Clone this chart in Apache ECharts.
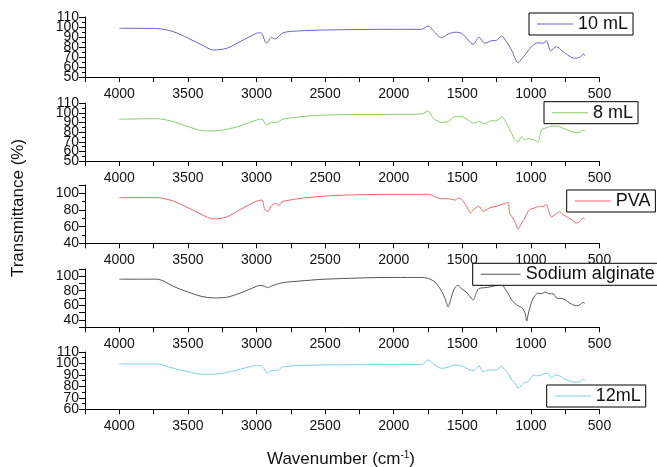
<!DOCTYPE html>
<html>
<head>
<meta charset="utf-8">
<script src="https://cdn.jsdelivr.net/npm/echarts@6/dist/echarts.min.js"></script>
<style>html,body{margin:0;padding:0;background:#fff;}#c{width:657px;height:467px;}</style>
</head>
<body>
<div id="c"></div>
<script>
// ---- data ----
const seriesNames = ['10 mL', '8 mL', 'PVA', 'Sodium alginate', '12mL'];
const xTickLabels = [4000, 3500, 3000, 2500, 2000, 1500, 1000, 500];

const wn10 = [4000,3728,3606,3497,3397,3315,3218,3120,3000,2970,2926,2890,2870,2854,2805,2700,2501,2003,1797,1749,1712,1651,1603,1554,1506,1457,1421,1379,1336,1287,1251,1214,1178,1141,1093,1068,1044,996,947,911,886,857,814,765,680,644,615,607];
const t10  = [98.7,98.5,95.3,88.7,82,77,78.7,85.3,93.7,94.3,83.7,89.7,88.2,88.7,94.3,96,97,97.7,97.7,101,96.3,89.3,93,94.7,93.7,87,82.7,89.7,83.7,86.3,86.7,91,85.3,77,64.3,68,72,80.3,84.3,83.7,86.3,76.3,80.3,75.3,68.7,69.7,73,71.3];

const wn8 = [4000,3728,3606,3497,3397,3315,3218,3120,3000,2960,2926,2890,2854,2805,2501,2003,1797,1749,1712,1651,1603,1554,1506,1457,1421,1379,1336,1287,1251,1214,1178,1141,1117,1093,1068,1044,1020,996,971,950,923,898,862,814,765,705,656,620,607];
const t8  = [93.4,94,90.9,85.7,81.5,81.2,83,86.4,92.6,93.4,87.4,90.2,90,93.7,97.8,98.5,98.9,102,94.4,90.2,91,96,96,92.6,89.2,91,88.8,91.9,91.6,96,89.2,78.8,71.8,70,75.3,71.8,73.5,72.5,71.8,69.5,82.2,84,85.7,86.4,84,80.5,79.4,82.2,81.5];

const wnPVA = [4000,3728,3606,3497,3397,3315,3218,3120,3000,2960,2940,2915,2890,2854,2840,2805,2501,2003,1749,1700,1650,1603,1554,1530,1506,1470,1440,1420,1400,1380,1348,1300,1251,1214,1190,1165,1156,1141,1117,1093,1068,1044,1020,996,971,935,910,886,870,850,825,790,765,705,668,644,620,607];
const tPVA  = [94.8,94.8,90.6,82.6,74.4,69.2,71.6,80.5,90.6,91.9,80.5,78.5,85.4,87.8,85.4,90.6,96.7,98.8,98.8,96,93.5,93.5,91.9,94.4,92.7,84.5,76.5,80.5,82.6,84.5,78.5,82.6,84.5,86.6,87.8,89.4,76.5,72.4,66.3,57,64.3,70.4,78.5,81.4,82.6,84.5,84.5,86.6,78.5,71.6,74.4,77.7,74.4,68.4,64.3,66.3,70.4,68.4];

const wnSA = [4000,3728,3680,3606,3497,3397,3315,3218,3120,3000,2975,2940,2920,2890,2854,2805,2700,2501,2003,1797,1749,1700,1651,1625,1603,1580,1554,1530,1506,1470,1421,1400,1379,1336,1300,1251,1214,1190,1165,1141,1117,1093,1068,1044,1030,1020,996,971,947,923,898,862,838,814,765,705,668,644,620,607];
const tSA  = [95.8,95.8,93.5,86,78.1,72.1,70.2,71.1,76.7,86,87.4,86,84.2,86.5,88.8,91.2,93,95.8,98.2,98.2,96.8,92,79.5,68.9,58.1,71.1,84.2,87.4,82.8,78.1,67.5,75.9,82.8,84.2,85.1,87.4,89.8,82.8,75.9,67.5,62.8,59.5,57.2,50.2,38.6,48,64.1,73.5,76.7,75.9,78.1,75.9,75.9,70.2,68.9,61.9,59.5,60.5,64.1,62.8];

const wn12 = [4000,3728,3680,3606,3497,3397,3315,3218,3120,3000,2960,2920,2890,2854,2805,2501,2003,1797,1749,1700,1651,1603,1554,1506,1457,1421,1379,1348,1300,1251,1214,1190,1165,1141,1117,1093,1068,1044,1020,996,971,947,923,898,874,850,825,790,765,705,668,644,620,607];
const t12  = [99.6,99.6,98.4,95.8,92.8,90.6,90.6,92,94.9,98.1,97.8,91.4,93.7,93.7,97.2,98.7,99,99,103,98.7,95.8,96.7,98.7,97.8,94.9,93.7,97.8,92.8,94.3,94.3,97.8,94.3,91.4,85.6,83.2,78.3,81.2,83.5,84.1,88.5,90,89.1,90,91.4,91.4,87.1,90,89.1,87.1,84.1,83.5,84.1,86.1,85];

// y tick labels shown for each panel
const yLabels = [
  [50, 60, 70, 80, 90, 100, 110],
  [50, 60, 70, 80, 90, 100, 110],
  [40, 60, 80, 100],
  [40, 60, 80, 100],
  [60, 70, 80, 90, 100, 110]
];
const yMin = [50, 50, 40, 30, 60];
const yMax = [110, 110, 110, 110, 110];
const yInterval = [10, 10, 20, 10, 10];
const colors = ['#6666c8', '#8ccc6a', '#f06868', '#555555', '#7fd0e0'];

// ---- layout ----
const grids = [
  {top: 17, height: 60},
  {top: 103.3, height: 57.7},
  {top: 185, height: 58.3},
  {top: 268.8, height: 58.5},
  {top: 352, height: 57.3}
];
const legendPos = [
  {left: 529, top: 13, w: 36},
  {left: 544, top: 101.7, w: 36},
  {left: 566.7, top: 190, w: 36},
  {left: 472.7, top: 263.3, w: 40},
  {left: 546.7, top: 385, w: 36}
];
const wnArr = [wn10, wn8, wnPVA, wnSA, wn12];
const tArr = [t10, t8, tPVA, tSA, t12];

const FONT = '"Liberation Sans", Arial, sans-serif';

// labels alternate between two stacked axes so that tightly packed labels are all drawn
function yLabelFormatter(i, parity) {
  return v => {
    const k = yLabels[i].indexOf(v);
    if (k < 0) return '';
    return (k % 2 === parity) ? String(v) : '';
  };
}
function makeYAxis(i, parity) {
  const primary = parity === 0;
  return {
    type: 'value', gridIndex: i, min: yMin[i], max: yMax[i], interval: yInterval[i],
    position: 'left',
    axisLine: {show: primary, lineStyle: {color: '#000', width: 1}},
    axisTick: {show: primary, length: 6, lineStyle: {color: '#000'}},
    minorTick: {show: primary && i !== 3, splitNumber: 2, length: 3, lineStyle: {color: '#000'}},
    splitLine: {show: false},
    axisLabel: {
      margin: 6, color: '#111', fontSize: 14, fontFamily: FONT,
      showMinLabel: true, showMaxLabel: true,
      formatter: yLabelFormatter(i, parity)
    }
  };
}

const yAxes = [];
for (let i = 0; i < 5; i++) yAxes.push(makeYAxis(i, 0));
for (let i = 0; i < 5; i++) yAxes.push(makeYAxis(i, 1));

const option = {
  animation: false,
  backgroundColor: '#fff',
  grid: grids.map(g => ({left: 85, width: 514.5, top: g.top, height: g.height, containLabel: false})),
  xAxis: grids.map((g, i) => ({
    type: 'value', gridIndex: i, inverse: true, min: 500, max: 4250, interval: 250,
    axisLine: {show: true, onZero: false, lineStyle: {color: '#000', width: 1}},
    axisTick: {show: true, length: 5, lineStyle: {color: '#000'}},
    splitLine: {show: false},
    axisLabel: {
      margin: 10, color: '#111', fontSize: 14, fontFamily: FONT,
      showMinLabel: true, showMaxLabel: true,
      formatter: v => (xTickLabels.indexOf(v) >= 0 ? String(v) : '')
    }
  })),
  yAxis: yAxes,
  legend: seriesNames.map((n, i) => ({
    data: [{name: n, icon: 'rect'}], left: legendPos[i].left, top: legendPos[i].top,
    orient: 'horizontal', itemWidth: legendPos[i].w, itemHeight: 1,
    padding: [2, 5, 2, 8], borderColor: '#000', borderWidth: 1, backgroundColor: '#fff',
    textStyle: {fontSize: 18, color: '#111', fontFamily: FONT, lineHeight: 18}
  })),
  series: seriesNames.map((n, i) => ({
    name: n, type: 'line', xAxisIndex: i, yAxisIndex: i,
    data: wnArr[i].map((w, k) => [w, tArr[i][k]]),
    showSymbol: false, symbol: 'none', smooth: 0.3,
    lineStyle: {color: colors[i], width: 1}, itemStyle: {color: colors[i]}
  })),
  graphic: [
    {type: 'text', x: 341, y: 459,
     style: {text: 'Wavenumber (cm{sup|-1})', fill: '#111', font: '17px ' + FONT,
       textAlign: 'center', textVerticalAlign: 'middle',
       rich: {sup: {fontSize: 10, verticalAlign: 'top', padding: [0, 0, 8, 0]}}}},
    {type: 'text', x: 18, y: 208, rotation: Math.PI / 2,
     style: {text: 'Transmittance (%)', fill: '#111', font: '17px ' + FONT,
       textAlign: 'center', textVerticalAlign: 'middle'}}
  ]
};

const chart = echarts.init(document.getElementById('c'), null, {renderer: 'canvas'});
chart.setOption(option);
</script>
</body>
</html>
